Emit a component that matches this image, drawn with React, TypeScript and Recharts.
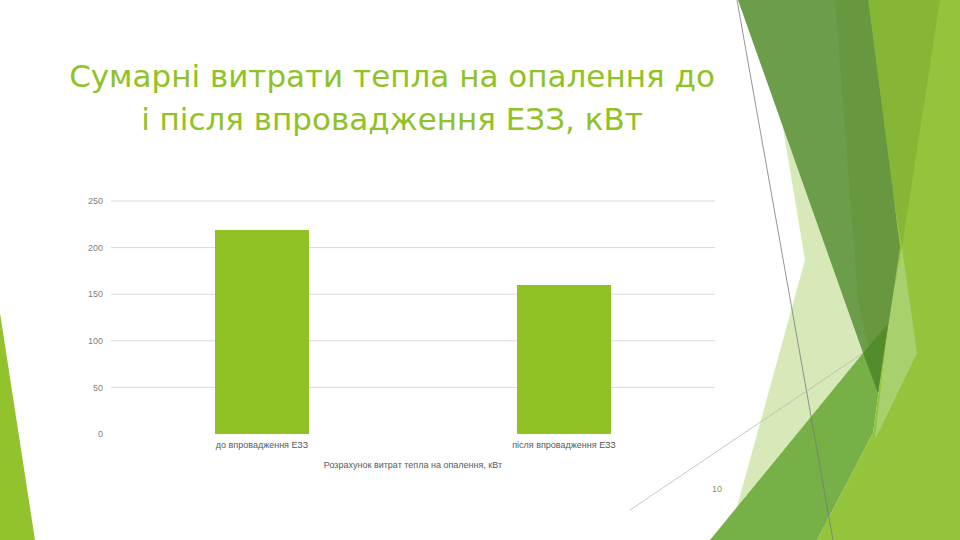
import { BarChart, Bar, XAxis, YAxis, CartesianGrid } from 'recharts';

const categories = ['до впровадження ЕЗЗ', 'після впровадження ЕЗЗ'];
const heatValues = [219, 160];
const yTicks = [0, 50, 100, 150, 200, 250];
const gridValues = [50, 100, 150, 200, 250];

const data = categories.map((name, i) => ({ name, value: heatValues[i] }));

const GREEN = '#90C226';

// slide decoration (Facet-like theme shapes)
function Decor() {
  return (
    <svg width={960} height={540} style={{ position: 'absolute', left: 0, top: 0 }}>
      <polygon points="0,313 0,540 35,540" fill="#92C22C" />
      <polygon points="868,0 960,0 960,540 817,540 873,433 888,323 900,247" fill="#93C43C" />
      <polygon points="860,0 940,0 902,247" fill="#87B636" />
      <polygon points="902,247 917,353 875,440 888,323" fill="#A8D06C" />
      <polygon points="782,122 805,260 737,507 863,353" fill="#D7E9B8" />
      <polygon points="738,0 868,0 900,247 878,393 863,353" fill="#6C9D4B" />
      <polygon points="835,0 868,0 900,247 878,393 858,300" fill="#67983F" />
      <polygon points="710,540 863,353 888,323 873,433 817,540" fill="#77B046" />
      <polygon points="863,353 888,323 878,393" fill="#528C2C" />
      <line x1={737} y1={0} x2={833} y2={540} stroke="#7A7A7A" strokeWidth={0.8} />
      <line x1={630} y1={510} x2={863} y2={353} stroke="#B8B8B8" strokeWidth={0.8} />
    </svg>
  );
}

export default function App() {
  return (
    <div
      style={{
        position: 'absolute',
        left: 0,
        top: 0,
        width: 960,
        height: 540,
        overflow: 'hidden',
        background: '#fff',
      }}
    >
      <Decor />
      <div
        style={{
          position: 'absolute',
          left: 20,
          top: 55,
          width: 744,
          textAlign: 'center',
          fontFamily: 'DejaVu Sans',
          fontSize: 31,
          lineHeight: '43px',
          color: GREEN,
        }}
      >
        Сумарні витрати тепла на опалення до
        <br />
        і після впровадження ЕЗЗ, кВт
      </div>
      <div style={{ position: 'absolute', left: 0, top: 0 }}>
        <BarChart
          width={960}
          height={540}
          data={data}
          margin={{ top: 201, right: 245, left: 71, bottom: 70 }}
        >
          <CartesianGrid vertical={false} horizontalValues={gridValues} stroke="#D9D9D9" />
          <XAxis
            dataKey="name"
            height={36}
            axisLine={false}
            tickLine={false}
            interval={0}
            tick={{ fill: '#595959', fontSize: 9, fontFamily: 'Liberation Sans' }}
            label={{
              value: 'Розрахунок витрат тепла на опалення, кВт',
              position: 'insideBottom',
              offset: 2,
              fill: '#595959',
              fontSize: 9,
              fontFamily: 'Liberation Sans',
            }}
          />
          <YAxis
            width={40}
            domain={[0, 250]}
            ticks={yTicks}
            axisLine={false}
            tickLine={false}
            tick={{ fill: '#7F7F7F', fontSize: 9, fontFamily: 'Liberation Sans' }}
          />
          <Bar dataKey="value" fill={GREEN} barSize={94} isAnimationActive={false} />
        </BarChart>
      </div>
      <div
        style={{
          position: 'absolute',
          left: 712,
          top: 484,
          fontFamily: 'Liberation Sans',
          fontSize: 9,
          color: '#7F9C4A',
        }}
      >
        10
      </div>
    </div>
  );
}
